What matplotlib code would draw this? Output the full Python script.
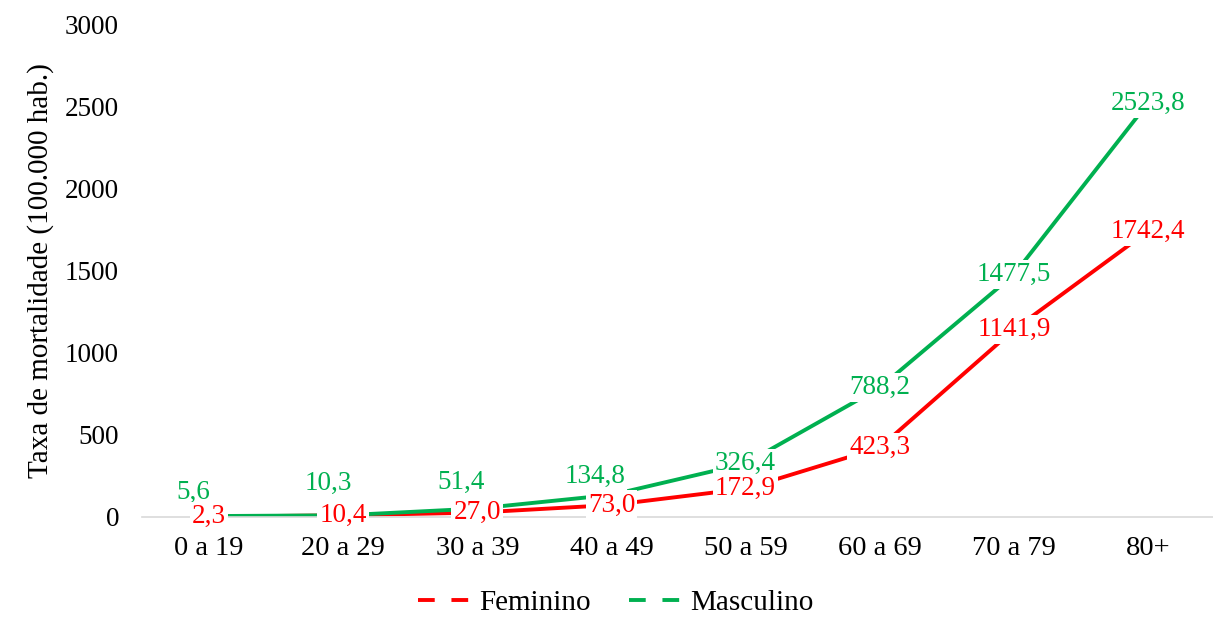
import matplotlib.pyplot as plt
from matplotlib.lines import Line2D

# =========================
# Data
# =========================
faixas = ["0 a 19", "20 a 29", "30 a 39", "40 a 49", "50 a 59", "60 a 69", "70 a 79", "80+"]
feminino = [2.3, 10.4, 27.0, 73.0, 172.9, 423.3, 1141.9, 1742.4]
masculino = [5.6, 10.3, 51.4, 134.8, 326.4, 788.2, 1477.5, 2523.8]

# label offsets in points (dx, dy) - placement only
off_fem = [(0, 0)] * 8
off_masc = [(-11, 17), (-11, 23), (-12, 19), (-12, 13), (0, 0), (0, 0), (0, 0), (0, 0)]

plt.rcParams["font.family"] = ["Liberation Serif", "DejaVu Serif"]

RED = "#ff0000"
GREEN = "#00b050"

fig = plt.figure(figsize=(12.13, 6.17), dpi=100)
ax = fig.add_axes([142 / 1213, 1 - 517 / 617, 1073 / 1213, 492 / 617])

x = list(range(len(faixas)))
ax.plot(x, feminino, color=RED, lw=2.8, solid_capstyle="butt", zorder=2)
ax.plot(x, masculino, color=GREEN, lw=2.8, solid_capstyle="butt", zorder=2)

def fmt(v):
    return f"{v:.1f}".replace(".", ",")

for xi, v, (dx, dy) in zip(x, masculino, off_masc):
    ax.annotate(fmt(v), (xi, v), xytext=(dx, dy), textcoords="offset points",
                ha="center", va="center", fontsize=19.5, color=GREEN, zorder=4,
                bbox=dict(boxstyle="square,pad=0.08", fc="white", ec="none"))
for xi, v, (dx, dy) in zip(x, feminino, off_fem):
    ax.annotate(fmt(v), (xi, v), xytext=(dx, dy), textcoords="offset points",
                ha="center", va="center", fontsize=19.5, color=RED, zorder=5,
                bbox=dict(boxstyle="square,pad=0.08", fc="white", ec="none"))

ax.set_xlim(-0.5, 7.5)
ax.set_ylim(0, 3000)
ax.set_yticks([0, 500, 1000, 1500, 2000, 2500, 3000])
ax.set_xticks(x)
ax.set_xticklabels(faixas)
ax.tick_params(axis="both", length=0, colors="#000000")
ax.tick_params(axis="y", pad=16.5, labelsize=19.5)
ax.tick_params(axis="x", pad=14, labelsize=20.5)
for s in ["top", "right", "left"]:
    ax.spines[s].set_visible(False)
ax.spines["bottom"].set_color("#d9d9d9")
ax.spines["bottom"].set_linewidth(1.2)

ax.set_ylabel("Taxa de mortalidade (100.000 hab.)", fontsize=21, labelpad=8)

handles = [Line2D([], [], color=RED, lw=2.8, ls=(0, (4.3, 4.3))),
           Line2D([], [], color=GREEN, lw=2.8, ls=(0, (4.3, 4.3)))]
fig.legend(handles, ["Feminino", "Masculino"], loc="center", bbox_to_anchor=(616 / 1213, 1 - 603 / 617),
           ncol=2, frameon=False, fontsize=21, handlelength=2.0, handletextpad=0.1, columnspacing=1.3)

fig.savefig("out.png", dpi=100)
